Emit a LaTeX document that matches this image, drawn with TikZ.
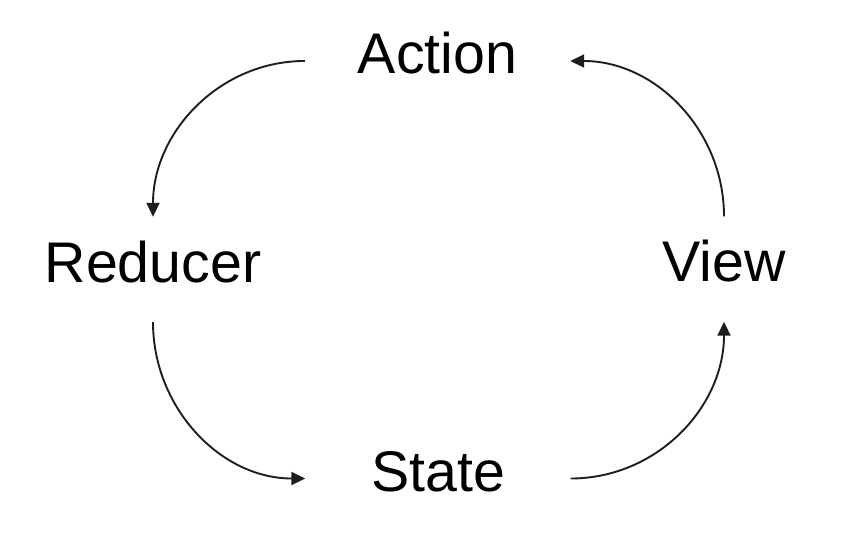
\documentclass[tikz,border=0pt]{standalone}
\usepackage{fontspec}
\setmainfont{Liberation Sans}
\usetikzlibrary{arrows.meta}
\begin{document}
\begin{tikzpicture}[x=1pt,y=1pt,
  lbl/.style={font=\fontsize{57.3}{60}\selectfont, inner xsep=0pt, inner ysep=20pt,
              minimum width=265pt, text height=45pt, text depth=20pt},
  flow/.style={line width=1.9pt, draw={rgb,255:red,30;green,30;blue,30},
               -{Triangle[length=14pt,width=13pt]}}]
\useasboundingbox (0,0) rectangle (866,536);
\node[lbl] (action) at (437.5,475) {Action};
\node[lbl] (reducer) at (153,266.5) {Reducer};
\node[lbl] (view) at (724,267) {View};
\node[lbl] (state) at (438,57.5) {State};
\draw[flow] (action.west) to[out=180,in=90] (reducer.north);
\draw[flow] (reducer.south) to[out=-90,in=180] (state.west);
\draw[flow] (state.east) to[out=0,in=-90] (view.south);
\draw[flow] (view.north) to[out=90,in=0] (action.east);
\end{tikzpicture}
\end{document}
